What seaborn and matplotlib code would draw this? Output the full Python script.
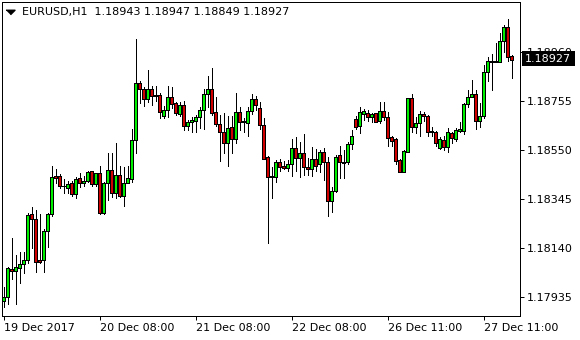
import numpy as np
import pandas as pd
import matplotlib
matplotlib.use("Agg")
import matplotlib.pyplot as plt
import matplotlib.transforms as mtransforms
from matplotlib.patches import Rectangle
import seaborn as sns

# ---------------- data (EURUSD, H1) ----------------
symbol = "EURUSD,H1"
opens = [1.17918, 1.17934, 1.18052, 1.18043, 1.18055, 1.18072, 1.18090, 1.18281, 1.18260, 1.18090,
         1.18090, 1.18211, 1.18282, 1.18441, 1.18441, 1.18401, 1.18392, 1.18413, 1.18365, 1.18432,
         1.18411, 1.18422, 1.18462, 1.18406, 1.18452, 1.18285, 1.18411, 1.18466, 1.18369, 1.18445,
         1.18359, 1.18411, 1.18427, 1.18592, 1.18829, 1.18805, 1.18762, 1.18805, 1.18779, 1.18780,
         1.18694, 1.18717, 1.18771, 1.18745, 1.18701, 1.18738, 1.18652, 1.18666, 1.18673, 1.18687,
         1.18717, 1.18784, 1.18804, 1.18708, 1.18658, 1.18624, 1.18581, 1.18645, 1.18595, 1.18708,
         1.18671, 1.18662, 1.18713, 1.18762, 1.18725, 1.18656, 1.18520, 1.18440, 1.18436, 1.18499,
         1.18483, 1.18473, 1.18491, 1.18557, 1.18518, 1.18536, 1.18480, 1.18469, 1.18511, 1.18490,
         1.18540, 1.18499, 1.18338, 1.18378, 1.18529, 1.18500, 1.18499, 1.18574, 1.18680, 1.18652,
         1.18701, 1.18704, 1.18689, 1.18704, 1.18671, 1.18713, 1.18687, 1.18604, 1.18596, 1.18508,
         1.18459, 1.18543, 1.18766, 1.18648, 1.18662, 1.18699, 1.18694, 1.18630, 1.18624, 1.18557,
         1.18592, 1.18564, 1.18620, 1.18595, 1.18631, 1.18631, 1.18741, 1.18773, 1.18783, 1.18671,
         1.18694, 1.18875, 1.18917, 1.18918, 1.18919, 1.19006, 1.19063, 1.18943]
highs = [1.17978, 1.18059, 1.18181, 1.18111, 1.18125, 1.18123, 1.18285, 1.18310, 1.18299, 1.18282,
         1.18220, 1.18288, 1.18484, 1.18471, 1.18448, 1.18429, 1.18422, 1.18422, 1.18436, 1.18455,
         1.18443, 1.18462, 1.18462, 1.18455, 1.18484, 1.18417, 1.18536, 1.18536, 1.18578, 1.18483,
         1.18479, 1.18483, 1.18636, 1.19013, 1.18839, 1.18812, 1.18885, 1.18818, 1.18818, 1.18787,
         1.18734, 1.18818, 1.18815, 1.18752, 1.18752, 1.18756, 1.18676, 1.18687, 1.18696, 1.18731,
         1.18804, 1.18860, 1.18892, 1.18771, 1.18696, 1.18704, 1.18692, 1.18692, 1.18787, 1.18731,
         1.18683, 1.18731, 1.18784, 1.18777, 1.18752, 1.18683, 1.18526, 1.18478, 1.18508, 1.18511,
         1.18504, 1.18508, 1.18595, 1.18606, 1.18585, 1.18617, 1.18515, 1.18564, 1.18553, 1.18550,
         1.18557, 1.18522, 1.18396, 1.18529, 1.18567, 1.18550, 1.18585, 1.18634, 1.18692, 1.18731,
         1.18720, 1.18717, 1.18706, 1.18706, 1.18750, 1.18750, 1.18710, 1.18609, 1.18599, 1.18511,
         1.18550, 1.18769, 1.18783, 1.18689, 1.18713, 1.18710, 1.18696, 1.18645, 1.18630, 1.18606,
         1.18609, 1.18641, 1.18627, 1.18641, 1.18666, 1.18745, 1.18801, 1.18843, 1.18801, 1.18745,
         1.18906, 1.18940, 1.18950, 1.18996, 1.19038, 1.19073, 1.19098, 1.18947]
lows = [1.17894, 1.17904, 1.18009, 1.17904, 1.17992, 1.18034, 1.18076, 1.18141, 1.18038, 1.18076,
        1.18041, 1.18145, 1.18274, 1.18411, 1.18392, 1.18371, 1.18371, 1.18359, 1.18348, 1.18394,
        1.18399, 1.18417, 1.18399, 1.18401, 1.18282, 1.18281, 1.18341, 1.18355, 1.18348, 1.18352,
        1.18316, 1.18411, 1.18416, 1.18539, 1.18745, 1.18735, 1.18752, 1.18738, 1.18756, 1.18683,
        1.18683, 1.18689, 1.18725, 1.18696, 1.18692, 1.18634, 1.18634, 1.18627, 1.18627, 1.18643,
        1.18637, 1.18731, 1.18696, 1.18650, 1.18505, 1.18536, 1.18483, 1.18539, 1.18581, 1.18634,
        1.18627, 1.18609, 1.18699, 1.18717, 1.18637, 1.18514, 1.18162, 1.18348, 1.18416, 1.18462,
        1.18471, 1.18462, 1.18443, 1.18462, 1.18438, 1.18445, 1.18445, 1.18443, 1.18462, 1.18459,
        1.18425, 1.18275, 1.18292, 1.18376, 1.18432, 1.18432, 1.18491, 1.18553, 1.18637, 1.18622,
        1.18676, 1.18671, 1.18668, 1.18666, 1.18662, 1.18676, 1.18568, 1.18568, 1.18491, 1.18459,
        1.18459, 1.18543, 1.18627, 1.18622, 1.18610, 1.18671, 1.18610, 1.18610, 1.18568, 1.18554,
        1.18550, 1.18543, 1.18578, 1.18588, 1.18627, 1.18616, 1.18731, 1.18771, 1.18637, 1.18648,
        1.18683, 1.18839, 1.18801, 1.18918, 1.18919, 1.18959, 1.18924, 1.18849]
closes = [1.17936, 1.18055, 1.18043, 1.18059, 1.18073, 1.18090, 1.18278, 1.18260, 1.18083, 1.18083,
          1.18211, 1.18281, 1.18436, 1.18434, 1.18399, 1.18398, 1.18408, 1.18365, 1.18427, 1.18411,
          1.18422, 1.18457, 1.18406, 1.18452, 1.18285, 1.18411, 1.18466, 1.18369, 1.18445, 1.18359,
          1.18411, 1.18432, 1.18592, 1.18829, 1.18804, 1.18762, 1.18805, 1.18776, 1.18775, 1.18708,
          1.18717, 1.18772, 1.18741, 1.18704, 1.18738, 1.18652, 1.18666, 1.18676, 1.18687, 1.18717,
          1.18784, 1.18804, 1.18704, 1.18658, 1.18624, 1.18581, 1.18641, 1.18595, 1.18708, 1.18668,
          1.18666, 1.18713, 1.18762, 1.18737, 1.18656, 1.18514, 1.18436, 1.18436, 1.18499, 1.18480,
          1.18473, 1.18491, 1.18557, 1.18518, 1.18536, 1.18480, 1.18469, 1.18511, 1.18484, 1.18543,
          1.18501, 1.18338, 1.18378, 1.18522, 1.18499, 1.18497, 1.18574, 1.18609, 1.18648, 1.18708,
          1.18713, 1.18689, 1.18701, 1.18668, 1.18713, 1.18687, 1.18601, 1.18589, 1.18505, 1.18459,
          1.18545, 1.18766, 1.18648, 1.18662, 1.18699, 1.18694, 1.18627, 1.18624, 1.18578, 1.18596,
          1.18564, 1.18624, 1.18599, 1.18634, 1.18637, 1.18741, 1.18773, 1.18783, 1.18671, 1.18694,
          1.18875, 1.18922, 1.18922, 1.18921, 1.19006, 1.19063, 1.18940, 1.18927]
xtick_pos = [0, 24, 48, 72, 96, 120]
xtick_labels = ["19 Dec 2017", "20 Dec 08:00", "21 Dec 08:00",
                "22 Dec 08:00", "26 Dec 11:00", "27 Dec 11:00"]
ytick_values = [1.17935, 1.18140, 1.18345, 1.18550, 1.18755, 1.18960]

# ---------------- style ----------------
sns.set_style("white")
plt.rcParams['font.family'] = ['DejaVu Sans']

BULL = '#00EE00'
BEAR = '#D00000'
PX = 72 / 100  # one pixel in points

df = pd.DataFrame({'bar': np.arange(len(opens)), 'open': opens, 'high': highs,
                   'low': lows, 'close': closes})
df['body'] = df['close'] - df['open']
df['up'] = df['close'] >= df['open']

fig = plt.figure(figsize=(5.8, 3.4), dpi=100)
fig.patch.set_facecolor('white')
ax = fig.add_axes([2 / 580, 24 / 340, 518 / 580, 314 / 340])
ax.set_facecolor('white')

# wicks
ax.vlines(df['bar'], df['low'], df['high'], color='black', linewidth=PX,
          zorder=2, antialiased=False)

# bodies
for up, col in [(True, BULL), (False, BEAR)]:
    sub = df[df['up'] == up].reset_index(drop=True)
    sns.barplot(data=sub, x='bar', y='body', bottom=sub['open'].to_numpy(),
                native_scale=True, width=0.55, color=col, saturation=1,
                edgecolor='black', linewidth=PX, errorbar=None, ax=ax,
                zorder=3, antialiased=False)

ax.set_xlabel('')
ax.set_ylabel('')
ax.set_xlim(-0.375, 129.125)
ax.set_ylim(1.178555, 1.19169)

ax.yaxis.tick_right()
ax.set_yticks(ytick_values, [f'{v:.5f}' for v in ytick_values])
ax.set_xticks(xtick_pos, xtick_labels)
for t in ax.get_xticklabels():
    t.set_ha('left')
ax.tick_params(axis='both', direction='out', length=3, width=PX, color='black',
               labelsize=8, labelcolor='black', pad=2)
ax.tick_params(axis='y', left=False, right=True, labelleft=False, labelright=True)
ax.tick_params(axis='x', bottom=True, top=False)
for s in ax.spines.values():
    s.set_visible(True)
    s.set_color('black')
    s.set_linewidth(PX)

# header
ax.plot([0.0164], [0.969], marker=[(-1, 0.5), (1, 0.5), (0, -0.5)], ms=6.5,
        color='black', transform=ax.transAxes, clip_on=False, linestyle='none')
header = f"{symbol}  {opens[-1]:.5f} {highs[-1]:.5f} {lows[-1]:.5f} {closes[-1]:.5f}"
ax.text(0.038, 0.969, header, transform=ax.transAxes, va='center', ha='left',
        fontsize=8, color='black')

# current price tag (covers the top tick label, as in the terminal)
last = closes[-1]
trans = mtransforms.blended_transform_factory(ax.transAxes, ax.transData)
ax.add_patch(Rectangle((1.0033, last - 0.000240), 0.103, 0.000614, transform=trans,
                       facecolor='black', edgecolor='none', clip_on=False, zorder=10))
ax.text(1.0547, last + 0.00004, f'{last:.5f}', transform=trans, color='white',
        fontsize=8, ha='center', va='center', zorder=11, clip_on=False)

fig.savefig('out.png', dpi=100)
